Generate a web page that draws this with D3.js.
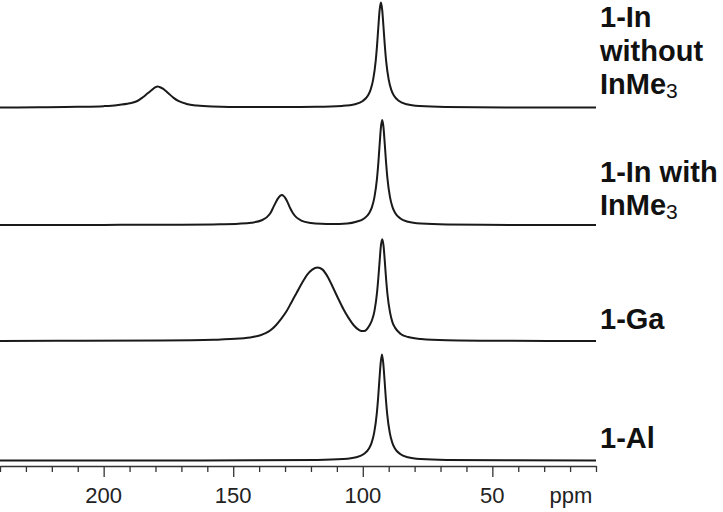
<!DOCTYPE html>
<html>
<head>
<meta charset="utf-8">
<script src="https://cdn.jsdelivr.net/npm/d3@7/dist/d3.min.js"></script>
<style>
body { margin: 0; background: #fff; }
</style>
</head>
<body>
<div id="chart"></div>
<script>
// ppm axis ticks
var ppmTicks = [200, 150, 100, 50];
var axisUnit = "ppm";

// labels, each line is [text, subscript]
var spectrumLabels = [
    [["1-In", ""], ["without", ""], ["InMe", "3"]],
    [["1-In with", ""], ["InMe", "3"]],
    [["1-Ga", ""]],
    [["1-Al", ""]]
];

// [ppm, intensity] (narrow peak ~ 100)
var inWithout = [[240,0],[225,0.2],[210,0.6],[200,1.3],[195,2.2],[190,4],[187,6.2],[185,9.5],[183,13.5],[181,17.5],[180,19.3],[179.3,20],[178.5,19.6],[177,17.8],[175,13.5],[173,9.2],[171,6],[168,3.4],[164,1.8],[158,0.9],[145,0.4],[130,0.4],[118,0.6],[108,1.5],[103,3.1],[100,6.2],[98,11.5],[97,16.8],[96,26.5],[95,44.7],[94.5,59],[94,76.4],[93.5,92.8],[93,100],[92.5,92.8],[92,76.4],[91.5,59],[91,44.7],[90,26.5],[89,16.8],[88,11.5],[86,6.2],[83,3.1],[78,1.4],[68,0.5],[43,0.1],[25,0],[10,0]];

var inWith = [[240,0],[200,0.1],[170,0.3],[155,0.7],[148,1.2],[143,2.2],[139,4.5],[137,7.5],[135.5,12],[134.5,17],[133.5,22],[132.5,26],[131.8,28],[131.2,28.5],[130.5,27.5],[130,26],[129,21.5],[128,16],[127,11.5],[125.5,7],[123.5,4],[120,2],[116,1.2],[112,1],[106,1.5],[102.5,3.1],[99.5,6.2],[97.5,11.5],[96.5,16.8],[95.5,26.5],[94.5,44.7],[94,59],[93.5,76.4],[93,92.8],[92.5,100],[92,92.8],[91.5,76.4],[91,59],[90.5,44.7],[89.5,26.5],[88.5,16.8],[87.5,11.5],[85.5,6.2],[82.5,3.1],[77.5,1.4],[67.5,0.5],[42.5,0.1],[10,0]];

var gaSpec = [[240,0.1],[217.5,0.2],[177.5,0.5],[157.5,1.2],[147.5,2.3],[142.5,3.8],[139.5,5.5],[137.5,7.5],[135.5,10.5],[133.5,15],[131.5,21],[129.5,28],[127.5,37],[125.5,46],[123.5,55],[121.5,63],[119.5,68],[117.5,70],[115.5,68],[113.5,61],[111.5,51],[109.5,40.5],[107.5,30.5],[105.5,22],[103.5,15],[101.5,10.5],[100.5,9.5],[99.5,9.5],[98.5,11],[97.5,14.5],[96.5,19.5],[95.5,28.5],[94.5,46],[94,60],[93.5,76],[93,91],[92.5,97],[92,91],[91.5,76],[91,59],[90.5,45],[89.5,27.5],[88.5,17.5],[87.5,12.5],[85.5,7],[82.5,3.8],[77.5,1.9],[67.5,0.8],[42.5,0.2],[10,0]];

var alSpec = [[240,0],[180,0.1],[142.6,0.13],[117.6,0.5],[107.6,1.4],[102.6,3.1],[99.6,6.2],[97.6,11.5],[96.6,16.8],[95.6,26.5],[94.6,44.7],[94.1,59],[93.6,76.4],[93.1,92.8],[92.6,101],[92.1,92.8],[91.6,76.4],[91.1,59],[90.6,44.7],[89.6,26.5],[88.6,16.8],[87.6,11.5],[85.6,6.2],[82.6,3.1],[77.6,1.4],[67.6,0.5],[42.6,0.13],[10,0]];

var spectra = [inWithout, inWith, gaSpec, alSpec];

var width = 723, height = 512;
var baselines = [107.5, 225, 341, 460.5];
var labelTops = [27.3, 181.7, 329.3, 448.3];
var lineGap = 33.5;
var axisY = 466;

var svg = d3.select("#chart").append("svg")
    .attr("width", width)
    .attr("height", height);

var x = d3.scaleLinear().domain([240, 10]).range([0, 596]);

spectra.forEach(function(spec, i) {
    var y = d3.scaleLinear().domain([0, 100]).range([baselines[i], baselines[i] - 105]);
    var line = d3.line()
        .x(function(d) { return x(d[0]); })
        .y(function(d) { return y(d[1]); })
        .curve(d3.curveMonotoneX);
    svg.append("path")
        .datum(spec)
        .attr("d", line)
        .attr("fill", "none")
        .attr("stroke", "#1a1a1a")
        .attr("stroke-width", 2);
});

// axis: minor every 10 ppm, long ticks on labelled values
var axis = d3.axisBottom(x)
    .tickValues(d3.range(240, 9, -10))
    .tickSize(6)
    .tickSizeOuter(0)
    .tickFormat("");
var gAxis = svg.append("g")
    .attr("transform", "translate(0," + axisY + ")")
    .call(axis);
gAxis.select(".domain").attr("stroke", "#333").attr("stroke-width", 1.5);
gAxis.selectAll(".tick line").attr("stroke", "#333").attr("stroke-width", 1.3)
    .attr("y2", function(d) { return ppmTicks.indexOf(d) >= 0 ? 11 : 6; });

svg.selectAll(".ppmlabel")
    .data(ppmTicks)
    .enter()
    .append("text")
    .attr("class", "ppmlabel")
    .attr("x", function(d) { return x(d); })
    .attr("y", 503)
    .attr("text-anchor", "middle")
    .attr("font-family", "Liberation Sans, Arial, sans-serif")
    .attr("font-size", 22)
    .attr("fill", "#222")
    .text(function(d) { return d; });

svg.append("text")
    .attr("x", 571)
    .attr("y", 503)
    .attr("text-anchor", "middle")
    .attr("font-family", "Liberation Sans, Arial, sans-serif")
    .attr("font-size", 22)
    .attr("fill", "#222")
    .text(axisUnit);

spectrumLabels.forEach(function(lines, i) {
    lines.forEach(function(ln, j) {
        var t = svg.append("text")
            .attr("x", 600)
            .attr("y", labelTops[i] + j * lineGap)
            .attr("font-family", "Liberation Sans, Arial, sans-serif")
            .attr("font-size", 29)
            .attr("font-weight", "bold")
            .attr("fill", "#111");
        t.append("tspan").text(ln[0]);
        if (ln[1]) {
            t.append("tspan")
                .attr("font-size", 21)
                .attr("font-weight", "normal")
                .attr("dy", 4)
                .text(ln[1]);
        }
    });
});
</script>
</body>
</html>
